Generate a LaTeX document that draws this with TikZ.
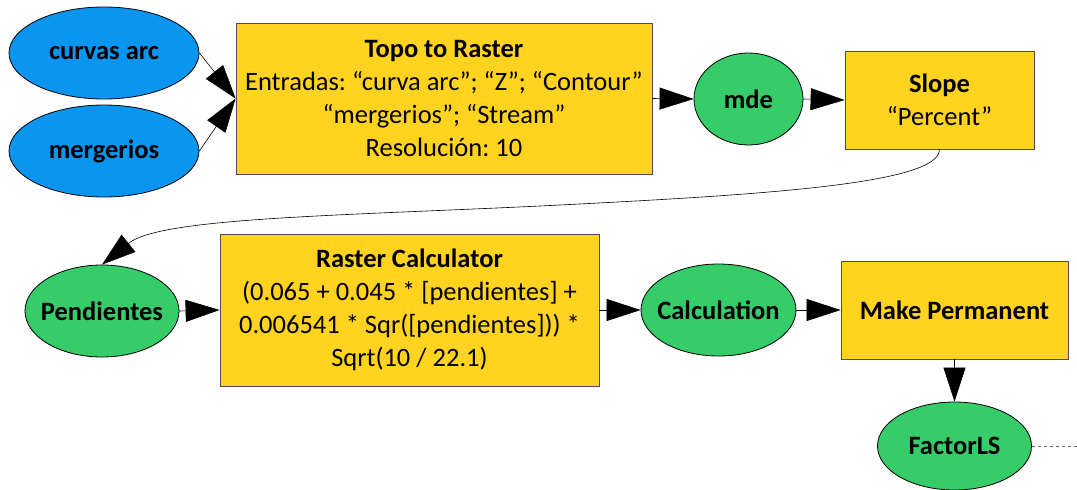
\documentclass[tikz,border=0pt]{standalone}
\usepackage{fontspec}
\setmainfont{Carlito}
\usetikzlibrary{arrows.meta,shapes.geometric}
\definecolor{cblue}{RGB}{10,150,240}
\definecolor{cgreen}{RGB}{54,204,106}
\definecolor{cyellow}{RGB}{255,211,32}
\newcommand{\flatlbl}[1]{\makebox[0pt]{#1}}
\begin{document}
\frenchspacing
\begin{tikzpicture}[x=1pt,y=-1pt,
  txt/.style={font=\fontsize{26.5}{33}\selectfont},
  ell/.style={ellipse, draw=black, line width=0.8pt, inner sep=0pt, font=\fontsize{26.5}{33}\selectfont\bfseries},
  blueell/.style={ell, fill=cblue},
  greenell/.style={ell, fill=cgreen},
  tool/.style={rectangle, draw=black!70, line width=0.8pt, fill=cyellow, align=center, inner sep=0pt, txt},
  arr/.style={-{Triangle[length=34pt,width=22pt]}, line width=0.6pt},
]
\useasboundingbox (0,0) rectangle (1077,490);
\node[blueell, minimum width=190pt, minimum height=92pt] (curvas) at (104,53) {\flatlbl{curvas arc}};
\node[blueell, minimum width=190pt, minimum height=92pt] (merg) at (104,151) {\flatlbl{mergerios}};
\node[tool, minimum width=416pt, minimum height=151pt] (topo) at (444,98.5)
  {{\bfseries Topo to Raster}\\Entradas: “curva arc”; “Z”; “Contour”\\“mergerios”; “Stream”\\Resolución: 10};
\node[greenell, minimum width=109pt, minimum height=92pt] (mde) at (748.5,99) {\flatlbl{mde}};
\node[tool, minimum width=189pt, minimum height=98pt] (slope) at (939.5,100)
  {{\bfseries Slope}\\“Percent”};
\node[greenell, minimum width=154pt, minimum height=92pt] (pend) at (102,311) {\flatlbl{Pendientes}};
\node[tool, minimum width=379pt, minimum height=152pt] (raster) at (409.5,310)
  {{\bfseries Raster Calculator}\\(0.065 + 0.045 * [pendientes] +\\0.006541 * Sqr([pendientes])) *\\Sqrt(10 / 22.1)};
\node[greenell, minimum width=155pt, minimum height=92pt] (calc) at (718.5,310) {\flatlbl{Calculation}};
\node[tool, minimum width=227pt, minimum height=98pt, font=\fontsize{26.5}{33}\selectfont\bfseries] (makep) at (954.5,310) {Make Permanent};
\node[greenell, minimum width=154pt, minimum height=88pt] (factor) at (954.5,446) {\flatlbl{FactorLS}};
\coordinate (dend) at (1077,446);

\draw[arr] (curvas.east) -- (topo.west);
\draw[arr] (merg.east) -- (topo.west);
\draw[arr] (topo.east) -- (mde.west);
\draw[arr] (mde.east) -- (slope.west);
\draw[arr] (slope.south) .. controls +(0,35) and (760,195) .. (540,206) .. controls (330,216) and (160,218) .. (pend.north);
\draw[arr] (pend.east) -- (raster.west);
\draw[arr] (raster.east) -- (calc.west);
\draw[arr] (calc.east) -- (makep.west);
\draw[arr] (makep.south) -- (factor.north);
\draw[dashed, dash pattern=on 3pt off 3pt, black!60, line width=0.8pt] (factor.east) -- (dend);
\end{tikzpicture}
\end{document}
